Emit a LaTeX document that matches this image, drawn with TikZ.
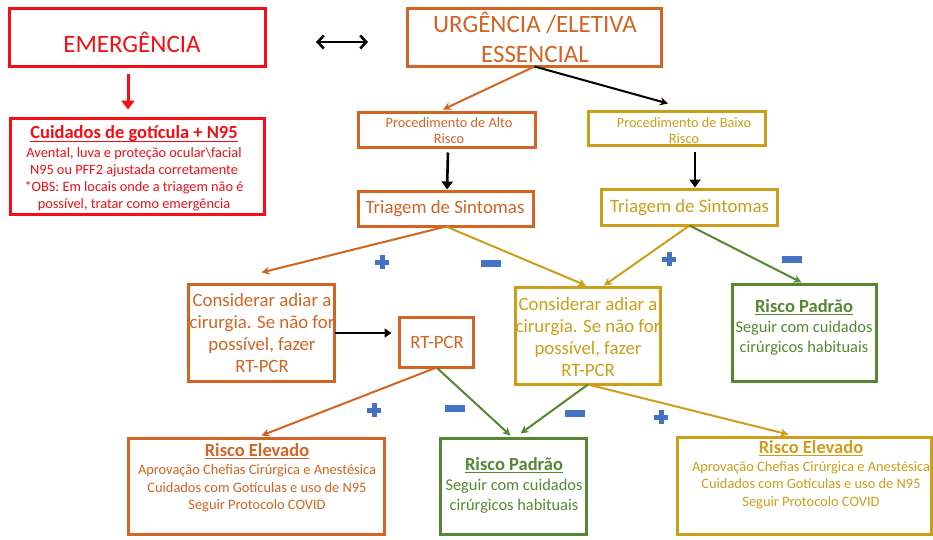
\documentclass[tikz,border=0pt]{standalone}
\usepackage{fontspec}
\setmainfont{Carlito}
\usetikzlibrary{arrows.meta}
\definecolor{cred}{RGB}{245,15,20}
\definecolor{corange}{RGB}{212,100,35}
\definecolor{cgold}{RGB}{205,158,25}
\definecolor{cgreen}{RGB}{86,136,50}
\definecolor{cblue}{RGB}{68,114,196}
\begin{document}
\begin{tikzpicture}[x=1pt,y=-1pt,
  box/.style={draw, line width=3pt, inner sep=0pt, outer sep=0pt, anchor=north west},
  conn/.style={line width=2pt, -{Stealth[length=8pt,width=8pt,inset=2.5pt]}},
  blk/.style={line width=2.6pt, black, -{Triangle[length=8pt,width=11pt]}},
  big/.style={font=\fontsize{25}{30}\selectfont, align=center},
  mid/.style={font=\fontsize{18.8}{22}\selectfont, align=center},
  small/.style={font=\fontsize{14.3}{16}\selectfont, align=center},
  ttl/.style={font=\fontsize{18.5}{22}\selectfont\bfseries, align=center},
  body/.style={font=\fontsize{14.4}{17.5}\selectfont, align=center},
  bodyb/.style={font=\fontsize{16.4}{19.5}\selectfont, align=center},
  pplus/.pic={\fill[cblue] (-7,-2.5) rectangle (7,2.5); \fill[cblue] (-2.5,-7) rectangle (2.5,7);},
  mminus/.pic={\fill[cblue] (-10,-3.5) rectangle (10,3.5);}
]
\useasboundingbox[fill=white] (0,0) rectangle (933,539);

% boxes
\node[box, draw=cred, minimum width=256pt, minimum height=58pt] (emerg) at (9.5,8.5) {};
\node[box, draw=cred, minimum width=254pt, minimum height=96pt] (cuid) at (10.5,118.5) {};
\node[box, draw=corange, minimum width=254pt, minimum height=58pt] (urg) at (407.5,8.5) {};
\node[box, draw=corange, minimum width=177pt, minimum height=35pt] (alto) at (358.5,112.5) {};
\node[box, draw=cgold, minimum width=177pt, minimum height=34pt] (baixo) at (588.5,111.5) {};
\node[box, draw=corange, minimum width=175pt, minimum height=35pt] (triL) at (358.5,191.5) {};
\node[box, draw=cgold, minimum width=176pt, minimum height=36pt] (triR) at (601.5,189.5) {};
\node[box, draw=corange, minimum width=146pt, minimum height=97pt] (consL) at (188.5,284.5) {};
\node[box, draw=corange, minimum width=74pt, minimum height=50pt] (rtpcr) at (399.5,317.5) {};
\node[box, draw=cgold, minimum width=145pt, minimum height=97pt] (consR) at (515.5,287.5) {};
\node[box, draw=cgreen, minimum width=144pt, minimum height=97pt] (padR) at (732.5,284.5) {};
\node[box, draw=corange, minimum width=256pt, minimum height=96pt] (elevL) at (128.5,438.5) {};
\node[box, draw=cgreen, minimum width=146pt, minimum height=96pt] (padB) at (440.5,438.5) {};
\node[box, draw=cgold, minimum width=254pt, minimum height=97pt] (elevR) at (677.5,437.5) {};

% texts
\node[big, text=cred, anchor=base] (temerg) at (132,52) {EMERGÊNCIA};
\node[big, text=corange] (turg) at (535,37.5) {URGÊNCIA /ELETIVA\\ESSENCIAL};
\node[ttl, text=cred] (tcuid) at (134,134) {\underline{\raisebox{0pt}[\height][1pt]{Cuidados de gotícula + N95}}};
\node[body, text=cred, font=\fontsize{14.3}{17}\selectfont] (bcuid) at (134,179) {Avental, luva e proteção ocular\textbackslash facial\\N95 ou PFF2 ajustada corretamente\\*OBS: Em locais onde a triagem não é\\possível, tratar como emergência};
\node[small, text=corange] (talto) at (449,130.5) {Procedimento de Alto\\Risco};
\node[small, text=cgold] (tbaixo) at (684,131) {Procedimento de Baixo\\Risco};
\node[mid, text=corange] (ttriL) at (445,209) {Triagem de Sintomas};
\node[mid, text=cgold] (ttriR) at (689.5,207.5) {Triagem de Sintomas};
\node[mid, text=corange] (tconsL) at (262,333.5) {Considerar adiar a\\cirurgia. Se não for\\possível, fazer\\RT-PCR};
\node[mid, text=corange] (trt) at (437,342.5) {RT-PCR};
\node[mid, text=cgold] (tconsR) at (588,337) {Considerar adiar a\\cirurgia. Se não for\\possível, fazer\\RT-PCR};
\node[ttl, text=cgreen] (tpadR) at (804,307) {\underline{Risco Padrão}};
\node[bodyb, text=cgreen] (bpadR) at (804,338) {Seguir com cuidados\\cirúrgicos habituais};
\node[ttl, text=corange] (televL) at (257,451) {\underline{Risco Elevado}};
\node[body, text=corange] (belevL) at (257,488.5) {Aprovação Chefias Cirúrgica e Anestésica\\Cuidados com Gotículas e uso de N95\\Seguir Protocolo COVID};
\node[ttl, text=cgreen] (tpadB) at (514,465) {\underline{Risco Padrão}};
\node[bodyb, text=cgreen] (bpadB) at (514,496) {Seguir com cuidados\\cirúrgicos habituais};
\node[ttl, text=cgold] (televR) at (811,448) {\underline{Risco Elevado}};
\node[body, text=cgold] (belevR) at (811,485) {Aprovação Chefias Cirúrgica e Anestésica\\Cuidados com Gotículas e uso de N95\\Seguir Protocolo COVID};

% connectors
\draw[line width=3pt, cred, -{Triangle[length=9pt,width=13pt]}] ([xshift=-9.5pt,yshift=-7pt]emerg.south) -- ([xshift=-9.5pt,yshift=9pt]cuid.north);
\coordinate (da1) at (316,42);
\coordinate (da2) at (368,42);
\draw[line width=2.6pt, black, {Straight Barb[length=6pt,width=13pt]}-{Straight Barb[length=6pt,width=13pt]}] (da1) -- (da2);
\draw[conn, corange] (urg.south) -- ([xshift=-4pt,yshift=3pt]alto.north);
\draw[conn, black] (urg.south) -- ([xshift=-9pt,yshift=8pt]baixo.north);
\draw[blk] ([xshift=1pt,yshift=-5pt]alto.south) -- ([xshift=1pt,yshift=2pt]triL.north);
\draw[blk] ([xshift=18pt,yshift=-6pt]baixo.south) -- ([xshift=5.5pt,yshift=2pt]triR.north);
\draw[conn, corange] (triL.south) -- ([yshift=12pt]consL.north);
\draw[conn, cgold] (triL.south) -- ([xshift=-2pt,yshift=2pt]consR.north);
\draw[conn, cgold] (triR.south) -- ([xshift=16pt,yshift=2pt]consR.north);
\draw[conn, cgreen] (triR.south) -- ([xshift=-3pt,yshift=2pt]padR.north);
\draw[line width=2pt, black, -{Triangle[length=7pt,width=9pt]}] (consL.east) -- ([xshift=-8pt]consL.east -| rtpcr.west);
\draw[conn, corange] (rtpcr.south) -- ([xshift=5pt,yshift=3pt]elevL.north);
\draw[conn, cgreen] (rtpcr.south) -- ([xshift=-3pt,yshift=3pt]padB.north);
\draw[conn, cgreen] (consR.south) -- ([xshift=7pt,yshift=5pt]padB.north);
\draw[conn, cgold] (consR.south) -- ([xshift=-16pt,yshift=3pt]elevR.north);

% signs
\pic at (382,262) {pplus};
\pic at (491,263) {mminus};
\pic at (669,259) {pplus};
\pic at (792,259) {mminus};
\pic at (374,410) {pplus};
\pic at (455,408) {mminus};
\pic at (575,413) {mminus};
\pic at (661,417) {pplus};
\end{tikzpicture}
\end{document}
